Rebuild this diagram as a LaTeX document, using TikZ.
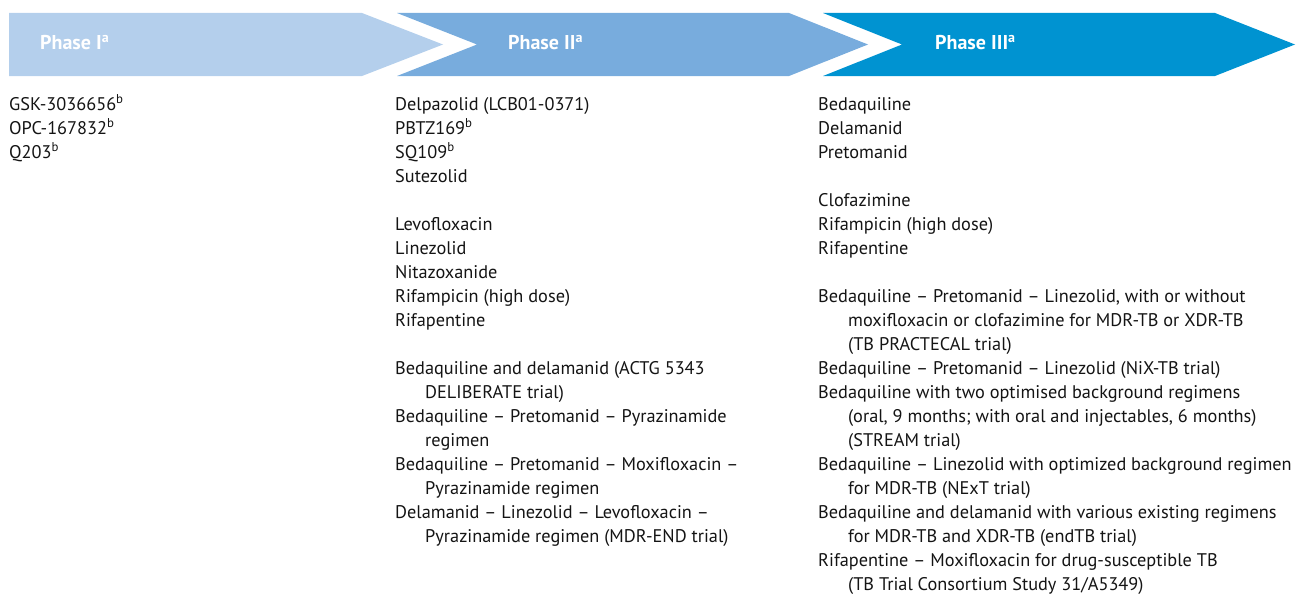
\documentclass[tikz,border=0pt]{standalone}
\usepackage{fontspec}
\setmainfont{PT Sans}
\usetikzlibrary{positioning}
\definecolor{ph1}{HTML}{B4CFEC}
\definecolor{ph2}{HTML}{78ACDD}
\definecolor{ph3}{HTML}{0093D1}
\definecolor{ink}{HTML}{141414}
\tikzset{
  phase/.style={text=white,font=\fontsize{20}{24}\selectfont\bfseries,inner sep=0pt,anchor=base west},
  col/.style={text=ink,font=\fontsize{18.3}{24}\selectfont,align=left,inner sep=0pt,anchor=north west},
}
\newcommand{\cont}{\\\hspace*{30pt}}
\begin{document}
\begin{tikzpicture}[x=1pt,y=-1pt]
\useasboundingbox (0,0) rectangle (1298,594);
\fill[ph1] (9,13) -- (362,13) -- (443,44.5) -- (362,76) -- (9,76) -- cycle;
\fill[ph2] (397,13) -- (789,13) -- (868,44.5) -- (789,76) -- (397,76) -- (477,44.5) -- cycle;
\fill[ph3] (823,13) -- (1215,13) -- (1295,44.5) -- (1215,76) -- (823,76) -- (902,44.5) -- cycle;
\node[phase] (p1) at (40,50) {Phase I\textsuperscript{a}};
\node[phase] (p2) at (508,50) {Phase II\textsuperscript{a}};
\node[phase] (p3) at (935,50) {Phase III\textsuperscript{a}};
\node[col] (c1) at (9,93) {\strut GSK-3036656\textsuperscript{b}\\
  OPC-167832\textsuperscript{b}\\
  Q203\textsuperscript{b}};
\node[col] (c2) at (395,93) {\strut Delpazolid (LCB01-0371)\\
  PBTZ169\textsuperscript{b}\\
  SQ109\textsuperscript{b}\\
  Sutezolid\\[24pt]
  Levofloxacin\\
  Linezolid\\
  Nitazoxanide\\
  Rifampicin (high dose)\\
  Rifapentine\\[24pt]
  Bedaquiline and delamanid (ACTG 5343\cont DELIBERATE trial)\\
  Bedaquiline -- Pretomanid -- Pyrazinamide\cont regimen\\
  Bedaquiline -- Pretomanid -- Moxifloxacin --\cont Pyrazinamide regimen\\
  Delamanid -- Linezolid -- Levofloxacin --\cont Pyrazinamide regimen (MDR-END trial)};
\node[col] (c3) at (818,93) {\strut Bedaquiline\\
  Delamanid\\
  Pretomanid\\[24pt]
  Clofazimine\\
  Rifampicin (high dose)\\
  Rifapentine\\[24pt]
  Bedaquiline -- Pretomanid -- Linezolid, with or without\cont moxifloxacin or clofazimine for MDR-TB or XDR-TB\cont (TB PRACTECAL trial)\\
  Bedaquiline -- Pretomanid -- Linezolid (NiX-TB trial)\\
  Bedaquiline with two optimised background regimens\cont (oral, 9 months; with oral and injectables, 6 months)\cont (STREAM trial)\\
  Bedaquiline -- Linezolid with optimized background regimen\cont for MDR-TB (NExT trial)\\
  Bedaquiline and delamanid with various existing regimens\cont for MDR-TB and XDR-TB (endTB trial)\\
  Rifapentine -- Moxifloxacin for drug-susceptible TB\cont (TB Trial Consortium Study 31/A5349)};
\end{tikzpicture}
\end{document}
